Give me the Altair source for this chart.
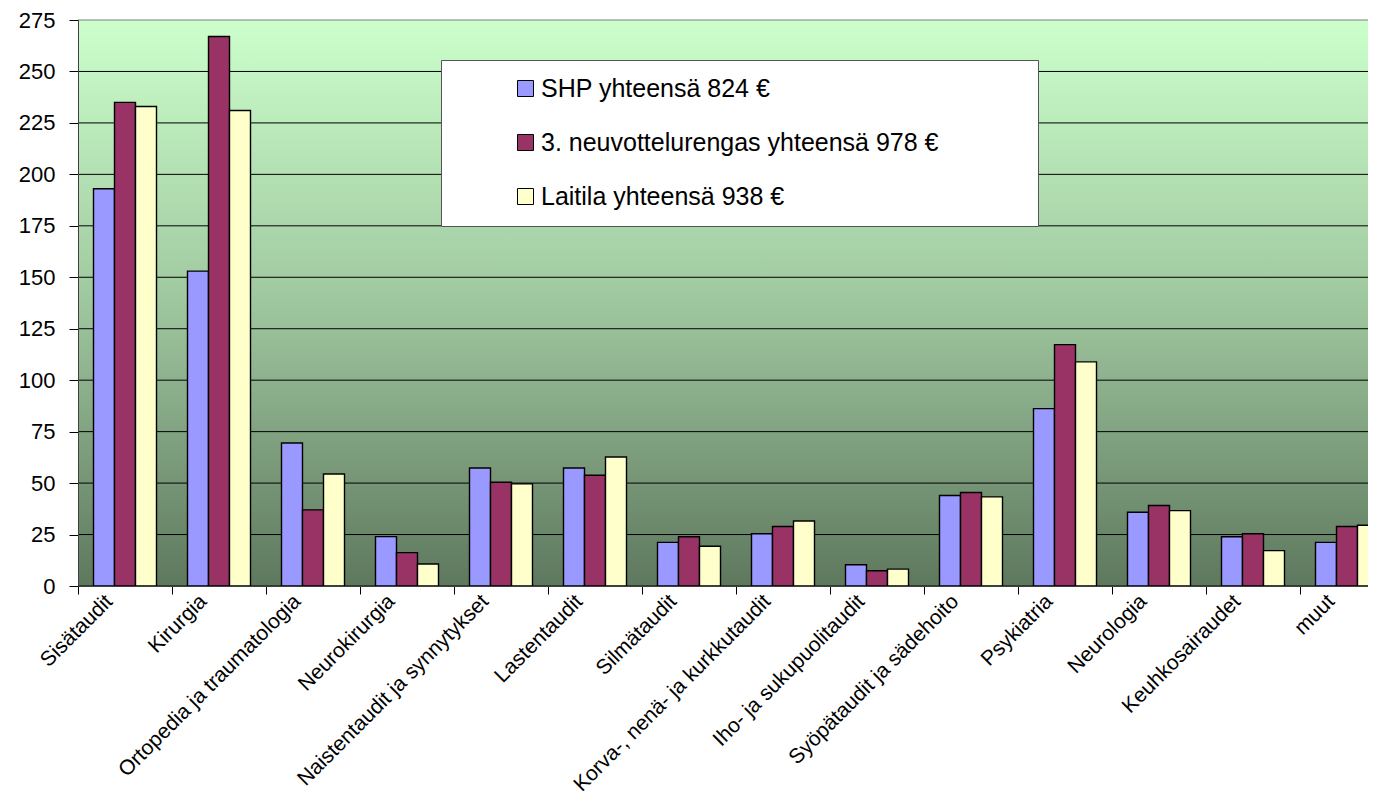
import altair as alt
import pandas as pd

categories = ["Sisätaudit", "Kirurgia", "Ortopedia ja traumatologia", "Neurokirurgia",
              "Naistentaudit ja synnytykset", "Lastentaudit", "Silmätaudit",
              "Korva-, nenä- ja kurkkutaudit", "Iho- ja sukupuolitaudit",
              "Syöpätaudit ja sädehoito", "Psykiatria", "Neurologia",
              "Keuhkosairaudet", "muut"]
series = ["SHP yhteensä 824 €", "3. neuvottelurengas yhteensä 978 €", "Laitila yhteensä 938 €"]
shp = [193, 153, 69.5, 24, 57.3, 57.3, 21.2, 25.4, 10.3, 44, 86.2, 35.8, 23.9, 21.2]
neuvottelurengas = [235, 267, 37, 16.2, 50.4, 53.8, 23.9, 28.9, 7.4, 45.4, 117.3, 39.1, 25.4, 28.9]
laitila = [233, 231, 54.4, 10.7, 49.6, 62.7, 19.3, 31.6, 8.2, 43.3, 108.9, 36.6, 17.2, 29.5]
colors = ["#9999FF", "#993366", "#FFFFCC"]
y_ticks = list(range(0, 276, 25))

rows = []
for name, vals in zip(series, [shp, neuvottelurengas, laitila]):
    for c, v in zip(categories, vals):
        rows.append({"category": c, "series": name, "value": v})
df = pd.DataFrame(rows)
grid_df = pd.DataFrame({"value": y_ticks})

W, H = 1290, 566
yscale = alt.Scale(domain=[0, 275], nice=False, zero=True)
FONT = "Liberation Sans"

gradient = alt.LinearGradient(
    gradient="linear",
    stops=[alt.GradientStop(offset=0, color="#CCFFCC"),
           alt.GradientStop(offset=0.5, color="#9FC79F"),
           alt.GradientStop(offset=1, color="#5E785E")],
    x1=0, x2=0, y1=0, y2=1)

bg = alt.Chart(alt.Data(values=[{}])).mark_rect(fill=gradient).encode(
    x=alt.value(0), x2=alt.value("width"), y=alt.value(0), y2=alt.value("height"))

grid = alt.Chart(grid_df).mark_rule(strokeWidth=1).encode(
    y=alt.Y("value:Q", scale=yscale, title=None),
    color=alt.condition("datum.value == 275", alt.value("#808080"), alt.value("black")))

# invisible right-hand spacing inside the legend box (trailing no-break spaces + zero-width space)
legend_pad = "'" + "\u00a0" * 12 + "\u200b'"

bars = alt.Chart(df).mark_bar(stroke="black", strokeWidth=1.4).encode(
    x=alt.X("category:N", sort=categories,
            scale=alt.Scale(range=[0, 1316], paddingInner=0, paddingOuter=0),
            axis=alt.Axis(title=None, labelAngle=-45, labelAlign="right", labelBaseline="middle",
                          labelOffset=-16, labelPadding=4, tickBand="extent", tickSize=8,
                          tickColor="black", domainColor="#404040", labelFont=FONT,
                          labelFontSize=21, labelColor="black", grid=False, labelOverlap=False,
                          labelLimit=600, zindex=1)),
    xOffset=alt.XOffset("series:N", sort=series,
                        scale=alt.Scale(paddingInner=0, paddingOuter=0.738)),
    y=alt.Y("value:Q", scale=yscale, title=None,
            axis=alt.Axis(values=y_ticks, tickSize=9, tickColor="black", domainColor="#404040",
                          labelFont=FONT, labelFontSize=22, labelPadding=14, labelColor="black",
                          grid=False, zindex=1)),
    color=alt.Color("series:N", sort=series,
                    scale=alt.Scale(domain=series, range=colors),
                    legend=alt.Legend(title=None, orient="none", legendX=363, legendY=40,
                                      direction="vertical", fillColor="white",
                                      strokeColor="#555555", padding=16, rowPadding=28,
                                      symbolType="square", symbolSize=256,
                                      symbolStrokeColor="black", symbolStrokeWidth=1,
                                      symbolOffset=56, labelOffset=3,
                                      labelExpr="datum.label + " + legend_pad,
                                      labelFont=FONT, labelFontSize=25, labelColor="black",
                                      labelLimit=800)),
)

chart = alt.layer(bg, grid, bars).properties(
    width=W, height=H,
    autosize=alt.AutoSizeParams(type="none"),
    padding={"left": 70, "top": 12, "right": 0, "bottom": 208},
).configure_view(stroke=None).configure(background="white")

chart.save("out.html", embed_options={"renderer": "svg", "actions": False})
